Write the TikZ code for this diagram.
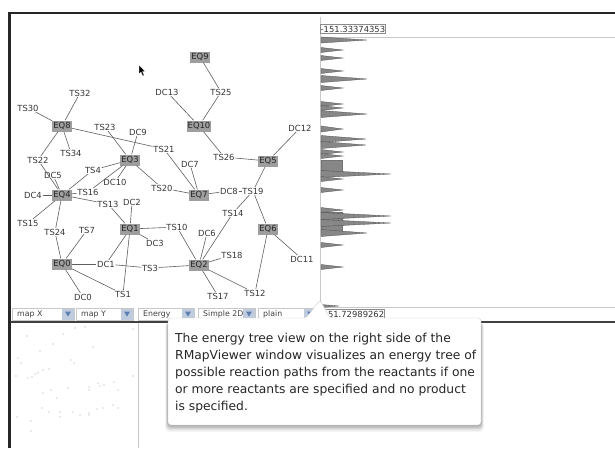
\documentclass[tikz,border=0pt]{standalone}
\usepackage{fontspec}
\setmainfont{DejaVu Sans}
\usepackage{xcolor}

\definecolor{eqgray}{RGB}{158,158,158}
\definecolor{linkgray}{RGB}{95,95,95}
\definecolor{labelgray}{RGB}{55,55,55}
\definecolor{barfill}{RGB}{135,135,135}
\definecolor{panelline}{RGB}{200,200,200}
\definecolor{arrowbox}{RGB}{190,204,222}
\definecolor{arrowblue}{RGB}{92,126,176}

\tikzset{
  eqnode/.style={fill=eqgray, inner xsep=1pt, inner ysep=0pt, minimum height=11pt, font=\fontsize{8.4}{9}\selectfont, text=black!85},
  tsnode/.style={inner sep=0.6pt, font=\fontsize{8.4}{9}\selectfont, text=labelgray},
  link/.style={draw=linkgray, line width=0.6pt},
  spike/.style={fill=barfill, draw=black!70, line width=0.3pt},
  barblock/.style={fill=barfill, draw=black!55, line width=0.3pt},
  menubox/.style={draw=panelline, fill=white, line width=0.4pt},
  menutext/.style={anchor=west, inner sep=0pt, font=\fontsize{7.8}{9}\selectfont, text=black!75},
  valuebox/.style={draw=black!45, fill=white, anchor=west, inner xsep=0.5pt, inner ysep=1.5pt, font=\fontsize{8.4}{9}\selectfont, text=black!80},
  tipbox/.style={fill=white, draw=black!20, line width=0.4pt, rounded corners=3pt},
  tiptext/.style={anchor=north west, align=left, inner sep=0pt, font=\fontsize{12.3}{17}\selectfont, text=black!85}
}

\begin{document}
\begin{tikzpicture}[x=1pt,y=-1pt]

    \useasboundingbox (0,0) rectangle (615,448);
    \fill[white] (0,0) rectangle (615,448);

    % panel del histograma
    \draw[panelline, line width=0.8pt] (320,17) -- (320,307);
    \draw[panelline, line width=0.6pt] (320,37) -- (615,37);
    \draw[panelline, line width=0.6pt] (320,307) -- (615,307);

    % barras de energia
    \path[barblock] (321,160) rectangle (342,172);
    \path[barblock] (321,212) rectangle (342,231);
    \foreach \y/\l/\h in {40/46/3, 50/22/2.5, 58/22/2.5, 71/22/2.5, 79/46/3.5, 88/22/2.5,
        104/22/2.5, 108/22/2.5, 114/46/3.5, 129/22/3, 139/45/3.5, 145/45/3.5, 152/22/2.5,
        156/22/2.5, 174/70/3.5, 179/22/2.5, 190/22/2.5, 210/22/2.5, 216/70/3.5, 223/70/3.5,
        233/46/3.5, 245/22/2.5, 267/22/2.5, 306/18/1.5}
        \path[spike] (321,{\y-\h}) -- ({321+\l},\y) -- (321,{\y+\h}) -- cycle;

    % valores extremos
    \node[valuebox] (emax) at (320,29) {-151.33374353};
    \node[valuebox] (emin) at (322,314) {151.72989262};

    % nodos EQ
    \node[eqnode] (EQ0) at (62,264) {EQ0};
    \node[eqnode] (EQ1) at (130,229) {EQ1};
    \node[eqnode] (EQ2) at (199,265) {EQ2};
    \node[eqnode] (EQ3) at (130,160) {EQ3};
    \node[eqnode] (EQ4) at (62,195) {EQ4};
    \node[eqnode] (EQ5) at (268,161) {EQ5};
    \node[eqnode] (EQ6) at (268,229) {EQ6};
    \node[eqnode] (EQ7) at (199,195) {EQ7};
    \node[eqnode] (EQ8) at (62,126) {EQ8};
    \node[eqnode] (EQ9) at (200,57) {EQ9};
    \node[eqnode] (EQ10) at (199,126) {EQ10};

    % nodos TS
    \node[tsnode] (TS1) at (123,294) {TS1};
    \node[tsnode] (TS3) at (150,268) {TS3};
    \node[tsnode] (TS4) at (93,170) {TS4};
    \node[tsnode] (TS7) at (87,230) {TS7};
    \node[tsnode] (TS10) at (177,227) {TS10};
    \node[tsnode] (TS12) at (255,293) {TS12};
    \node[tsnode] (TS13) at (108,204) {TS13};
    \node[tsnode] (TS14) at (233,213) {TS14};
    \node[tsnode] (TS15) at (28,223) {TS15};
    \node[tsnode] (TS16) at (88,192) {TS16};
    \node[tsnode] (TS17) at (218,296) {TS17};
    \node[tsnode] (TS18) at (232,255) {TS18};
    \node[tsnode] (TS19) at (253,191) {TS19};
    \node[tsnode] (TS20) at (162,188) {TS20};
    \node[tsnode] (TS21) at (164,149) {TS21};
    \node[tsnode] (TS22) at (38,160) {TS22};
    \node[tsnode] (TS23) at (105,127) {TS23};
    \node[tsnode] (TS24) at (55,232) {TS24};
    \node[tsnode] (TS25) at (221,92) {TS25};
    \node[tsnode] (TS26) at (224,157) {TS26};
    \node[tsnode] (TS30) at (28,108) {TS30};
    \node[tsnode] (TS32) at (80,93) {TS32};
    \node[tsnode] (TS34) at (71,153) {TS34};

    % nodos DC
    \node[tsnode] (DC0) at (83,297) {DC0};
    \node[tsnode] (DC1) at (106,264) {DC1};
    \node[tsnode] (DC2) at (132,202) {DC2};
    \node[tsnode] (DC3) at (155,243) {DC3};
    \node[tsnode] (DC4) at (33,195) {DC4};
    \node[tsnode] (DC5) at (53,175) {DC5};
    \node[tsnode] (DC6) at (207,233) {DC6};
    \node[tsnode] (DC7) at (190,164) {DC7};
    \node[tsnode] (DC8) at (229,191) {DC8};
    \node[tsnode] (DC9) at (138,132) {DC9};
    \node[tsnode] (DC10) at (115,182) {DC10};
    \node[tsnode] (DC11) at (302,259) {DC11};
    \node[tsnode] (DC12) at (300,128) {DC12};
    \node[tsnode] (DC13) at (167,92) {DC13};

    % conexiones
    \foreach \a/\b in {EQ9/TS25, TS25/EQ10, DC13/EQ10, EQ10/TS26, TS26/EQ5,
        EQ5/DC12, EQ5/TS19, TS19/EQ6, EQ6/DC11, EQ6/TS12, TS19/TS14, TS14/EQ2,
        EQ7/DC8, DC8/TS19, EQ7/DC7, EQ7/TS21, EQ7/TS20, TS20/EQ3, EQ8/TS21,
        EQ3/TS23, EQ3/DC9, EQ3/TS4, TS4/EQ4, EQ3/DC10, EQ3/TS16, TS16/EQ4,
        EQ8/TS30, EQ8/TS32, EQ8/TS22, EQ8/TS34, TS22/EQ4, EQ4/DC5, EQ4/DC4,
        EQ4/TS13, TS13/EQ1, EQ4/TS15, EQ4/TS24, TS24/EQ0, EQ1/DC2, EQ1/TS10,
        TS10/EQ2, EQ1/DC3, EQ1/DC1, EQ0/DC1, EQ1/TS1, TS1/EQ0, TS7/EQ0,
        EQ0/DC0, DC1/TS3, TS3/EQ2, EQ2/DC6, EQ2/TS18, EQ2/TS17, EQ2/TS12}
        \draw[link] (\a) -- (\b);

    % cursor
    \filldraw[fill=black, draw=white, line width=0.3pt] (139,65) -- (139,74) -- (141,72.2)
        -- (142.8,76) -- (144.2,75.3) -- (142.5,71.6) -- (145,71.4) -- cycle;

    % barra de menus
    \foreach \n/\x/\ax/\t in {mapx/12/62/map X, mapy/76/121/map Y, energy/138/182/Energy,
        simple/198/243/Simple 2D, plain/258/304/plain} {
        \draw[menubox] (\x,308) rectangle (\ax+12,320);
        \node[menutext] (\n) at (\x+5,314.3) {\t};
        \fill[arrowbox] (\ax,308.5) rectangle (\ax+12,319.5);
        \fill[arrowblue] (\ax+3,311.5) -- (\ax+9,311.5) -- (\ax+6,316.5) -- cycle;
    }
    \draw[black!75, line width=1.6pt] (10,322) -- (615,322);

    % panel inferior izquierdo
    \draw[panelline, line width=0.8pt] (138,323) -- (138,448);
    \foreach \p in {(27,336), (63,334), (75,328), (85,327), (133,329), (53,344),
        (40,351), (93,347), (18,358), (21,363), (71,360), (74,363), (16,376),
        (28,378), (32,377), (35,374), (38,373), (43,370), (49,369), (133,376),
        (43,393), (51,390), (68,388), (57,398), (89,387), (89,390), (98,383),
        (100,386), (104,385), (114,382), (118,390), (42,408), (49,412), (60,412),
        (73,412), (80,415), (89,413), (89,415), (97,409), (103,408), (113,405),
        (118,408), (60,417), (17,417), (31,421), (31,431)}
        \fill[black!35] \p circle (0.55);

    % marco
    \draw[black!85, line width=2.5pt] (9.5,448) -- (9.5,13) -- (615,13);

    % globo de ayuda
    \foreach \d/\o in {7/0.04, 5.5/0.06, 4/0.08, 2.5/0.1, 1/0.12}
        \fill[black, opacity=\o, rounded corners=4pt] ({168-\d*0.4},322) rectangle ({481+\d*0.4},{425+\d});
    \path[tipbox] (168,318) -- (306,318) -- (320,300) -- (330,318) -- (481,318)
        -- (481,425) -- (168,425) -- cycle;
    \node[tiptext] (tip) at (175,332.5) {The energy tree view on the right side of the\\
        RMapViewer window visualizes an energy tree of\\
        possible reaction paths from the reactants if one\\
        or more reactants are specified and no product\\
        is specified.};

\end{tikzpicture}
\end{document}
